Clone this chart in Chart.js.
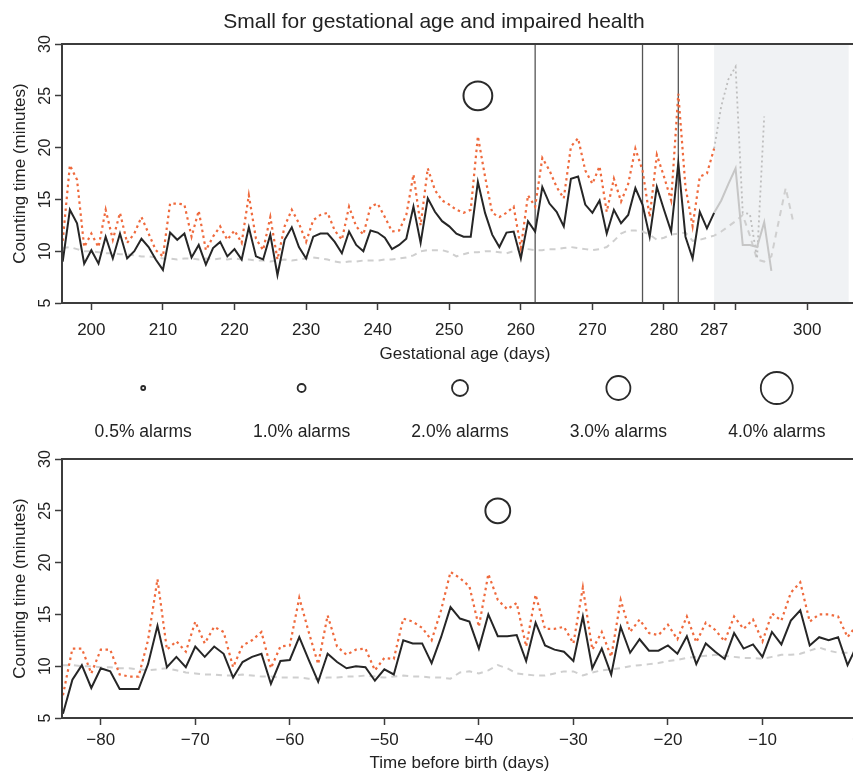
<!DOCTYPE html>
<html>
<head>
<meta charset="utf-8">
<title>Small for gestational age and impaired health</title>
<script src="https://cdn.jsdelivr.net/npm/chart.js@4.4.1/dist/chart.umd.min.js"></script>
<style>
  html, body { margin: 0; padding: 0; background: #fff; width: 853px; height: 773px; overflow: hidden; }
  canvas { position: absolute; left: 0; }
  #topChart { top: 0; }
  #legendChart { top: 365px; }
  #bottomChart { top: 440px; }
</style>
</head>
<body>
<canvas id="topChart" width="880" height="365"></canvas>
<canvas id="legendChart" width="880" height="80"></canvas>
<canvas id="bottomChart" width="880" height="336"></canvas>
<script>
// ---- top panel: one value per day, starting at gestational day 196
const topStart = 196;
const topCount = [
  9.0, 14.0, 12.7, 8.8, 10.1, 8.8, 11.4, 9.3, 11.7, 9.3,
  10.0, 11.2, 10.4, 9.2, 8.2, 11.8, 11.1, 11.7, 9.4, 10.6,
  8.7, 10.3, 10.9, 9.5, 10.2, 9.2, 12.3, 9.5, 9.2, 11.6,
  7.7, 11.1, 12.3, 10.4, 9.3, 11.4, 11.7, 11.7, 10.9, 9.8,
  11.9, 10.6, 10.0, 12.0, 11.8, 11.3, 10.2, 10.6, 11.2, 14.3,
  10.8, 15.1, 13.8, 12.9, 12.4, 11.7, 11.4, 11.4, 16.7, 13.7,
  11.6, 10.4, 11.8, 11.9, 9.3, 12.9, 11.9, 16.2, 14.6, 13.8,
  12.4, 17.0, 17.2, 14.5, 13.7, 14.9, 11.7, 14.0, 12.7, 13.5,
  16.1, 14.5, 11.4, 16.2, 14.0, 11.9, 18.5, 11.4, 9.3, 13.8,
  12.2, 13.7
];
const topUpper = [
  11.0, 18.3, 16.9, 10.4, 11.7, 10.4, 14.0, 11.1, 13.7, 10.8,
  11.7, 13.3, 11.7, 10.1, 9.5, 14.6, 14.6, 14.5, 11.4, 13.9,
  10.1, 11.4, 12.4, 11.1, 12.0, 10.8, 15.4, 11.2, 10.1, 13.3,
  9.2, 12.4, 14.0, 12.7, 10.9, 13.0, 13.5, 13.7, 12.0, 11.1,
  14.3, 12.4, 11.6, 14.3, 14.6, 13.3, 11.9, 12.0, 13.5, 17.4,
  12.5, 18.0, 15.9, 14.9, 14.5, 14.0, 13.7, 14.0, 21.1, 17.2,
  13.7, 13.3, 13.7, 14.3, 10.3, 15.4, 14.3, 19.0, 17.8, 16.2,
  15.1, 20.1, 20.9, 17.8, 16.5, 18.2, 13.8, 17.0, 14.8, 16.5,
  19.9, 17.8, 13.3, 19.3, 17.2, 14.9, 25.2, 16.2, 12.4, 17.2,
  17.5, 19.9
];
const topBaseline = [
  10.3, 10.4, 10.2, 10.0, 10.0, 9.9, 9.8, 9.8, 9.7, 9.7,
  9.6, 9.5, 9.5, 9.4, 9.3, 9.3, 9.2, 9.3, 9.3, 9.2,
  9.3, 9.2, 9.3, 9.2, 9.3, 9.2, 9.2, 9.1, 9.1, 9.0,
  9.1, 9.2, 9.1, 9.2, 9.3, 9.4, 9.3, 9.2, 9.0, 8.9,
  9.0, 9.0, 9.1, 9.1, 9.1, 9.2, 9.2, 9.3, 9.4, 9.6,
  10.0, 10.1, 10.1, 10.1, 9.9, 9.5, 9.7, 9.9, 9.9, 10.0,
  10.0, 9.9, 9.8, 10.0, 10.3, 10.2, 10.1, 10.1, 10.2, 10.2,
  10.3, 10.4, 10.3, 10.2, 10.1, 10.2, 10.4, 11.0, 11.7, 12.0,
  12.0, 11.9, 11.6, 11.1, 11.3, 11.6, 11.7, 11.8, 11.0, 11.1,
  11.3, 11.5, 11.9, 12.4, 12.9, 13.5, 11.5, 9.2, 9.0, 9.5,
  12.8, 16.1, 13.0
];
// after day 287 the curves continue in grey
const afterStart = 287;
const afterCount = [13.7, 14.9, 16.5, 18.0, 10.6, 10.6, 10.4, 12.8, 8.1];
const afterUpper = [19.9, 24.0, 26.6, 27.8, 13.7, 13.6, 9.3, 23.0];
const markDays = [262, 277, 282];
const shadeFrom = 287;
const shadeTo = 305.8;
const topXTicks = [200, 210, 220, 230, 240, 250, 260, 270, 280, 287, 290, 300];
const topXLabels = ['200', '210', '220', '230', '240', '250', '260', '270', '280', '287', '', '300'];
const topAlarmDay = [254];
const topAlarmY = [25];
const topAlarmPct = [3.6];

// ---- bottom panel: days before birth, starting at -84
const botStart = -84;
const botCount = [
  5.4, 8.7, 10.1, 7.9, 9.8, 9.5, 7.8, 7.8, 7.8, 10.2,
  13.9, 9.9, 10.9, 9.9, 11.9, 10.9, 11.9, 11.2, 8.9, 10.4,
  10.9, 11.2, 8.3, 10.5, 10.6, 12.8, 10.6, 8.5, 11.2, 10.4,
  9.8, 10.0, 9.9, 8.6, 9.7, 9.2, 12.5, 12.2, 12.2, 10.3,
  12.8, 15.7, 14.6, 14.3, 11.7, 15.0, 12.9, 12.9, 13.0, 10.5,
  14.2, 12.0, 11.6, 11.4, 10.5, 14.8, 9.8, 11.7, 9.2, 13.8,
  11.3, 12.6, 11.5, 11.5, 12.0, 11.2, 12.9, 10.2, 12.2, 11.4,
  10.7, 13.2, 11.7, 12.1, 10.9, 13.3, 12.1, 14.4, 15.4, 12.0,
  12.8, 12.5, 12.8, 10.1, 12.0
];
const botUpper = [
  7.2, 11.7, 11.7, 9.3, 11.6, 11.6, 9.2, 9.0, 9.0, 12.5,
  18.4, 11.6, 12.4, 11.4, 14.3, 12.2, 13.8, 13.3, 9.9, 12.0,
  12.5, 13.3, 9.8, 11.9, 12.0, 16.6, 13.3, 10.2, 14.9, 11.9,
  11.1, 11.6, 11.7, 9.6, 10.8, 10.7, 14.6, 14.3, 13.7, 12.5,
  15.4, 19.1, 18.5, 17.7, 13.8, 18.9, 16.4, 15.5, 16.1, 11.9,
  16.9, 13.6, 13.6, 13.8, 12.2, 17.6, 11.6, 13.3, 10.9, 16.4,
  13.3, 14.5, 13.2, 13.0, 14.0, 12.6, 14.8, 12.3, 14.2, 13.5,
  12.4, 14.8, 13.6, 14.5, 12.4, 15.1, 14.4, 17.1, 18.1, 14.3,
  15.0, 15.0, 14.8, 12.8, 14.0
];
const botBaseline = [
  10.1, 10.1, 10.0, 10.0, 9.9, 9.9, 9.8, 9.8, 9.7, 9.6,
  9.7, 9.8, 9.6, 9.4, 9.3, 9.2, 9.2, 9.1, 9.1, 9.2,
  9.1, 9.0, 9.0, 8.9, 8.9, 8.9, 8.8, 8.8, 8.9, 8.9,
  9.0, 9.0, 9.1, 9.0, 8.9, 9.0, 9.1, 9.0, 9.0, 8.9,
  8.9, 8.8, 9.4, 9.5, 9.3, 9.6, 10.1, 9.8, 9.3, 9.2,
  9.1, 9.1, 9.3, 9.5, 9.5, 9.1, 9.4, 9.6, 9.7, 9.8,
  10.0, 10.1, 10.2, 10.3, 10.5, 10.6, 10.8, 10.9, 11.0, 11.1,
  11.0, 10.9, 10.8, 10.8, 10.7, 10.9, 11.1, 11.1, 11.2, 11.5,
  11.8, 11.5, 11.3, 11.3, 11.4
];
const botXTicks = [-80, -70, -60, -50, -40, -30, -20, -10, 0];
const botAlarmDay = [-38];
const botAlarmY = [25];
const botAlarmPct = [3.1];

// ---- shared
const yTicks = [5, 10, 15, 20, 25, 30];
const legendPct = [0.5, 1.0, 2.0, 3.0, 4.0];

const ink = '#222';
const axisInk = '#3c3c3c';
const family = '"Liberation Sans", Arial, Helvetica, sans-serif';
const font = (size) => ({ family, size });
const alarmRadius = (pct) => pct * 4;
const series = (start, values) => values.map((v, i) => ({ x: start + i, y: v }));
const minus = (v) => (v < 0 ? '\u2212' + Math.abs(v) : String(v));

Chart.defaults.animation = false;
Chart.defaults.font.family = family;
Chart.defaults.color = ink;

const frame = {
  id: 'frame',
  afterDatasetsDraw(chart) {
    const { ctx, chartArea: a } = chart;
    ctx.save();
    ctx.strokeStyle = axisInk;
    ctx.lineWidth = 2;
    ctx.strokeRect(a.left, a.top, a.right - a.left, a.bottom - a.top);
    ctx.restore();
  }
};

const shade = {
  id: 'shade',
  beforeDatasetsDraw(chart) {
    const { ctx, chartArea: a, scales: { x } } = chart;
    const x0 = x.getPixelForValue(shadeFrom);
    const x1 = x.getPixelForValue(shadeTo);
    ctx.save();
    ctx.fillStyle = '#f0f2f4';
    ctx.fillRect(x0, a.top, x1 - x0, a.bottom - a.top);
    ctx.restore();
  }
};

function yAxis() {
  return {
    type: 'linear',
    min: yTicks[0],
    max: yTicks[yTicks.length - 1],
    afterBuildTicks: (s) => { s.ticks = yTicks.map((v) => ({ value: v })); },
    afterFit: (s) => { s.width = 62; },
    grid: { drawOnChartArea: false, tickLength: 7, tickColor: axisInk, tickWidth: 1.5 },
    border: { color: axisInk, width: 2 },
    ticks: { minRotation: 90, maxRotation: 90, crossAlign: 'center', padding: 1, color: ink, font: font(16) },
    title: { display: true, text: 'Counting time (minutes)', color: ink, font: font(17), padding: { top: 10, bottom: 0 } }
  };
}

function xAxis(min, max, values, labels, height, tickPad, text, titlePad) {
  return {
    type: 'linear',
    min,
    max,
    afterBuildTicks: (s) => { s.ticks = values.map((v) => ({ value: v })); },
    afterFit: (s) => { s.height = height; },
    grid: { drawOnChartArea: false, tickLength: 7, tickColor: axisInk, tickWidth: 1.5 },
    border: { color: axisInk, width: 2 },
    ticks: { autoSkip: false, maxRotation: 0, padding: tickPad, color: ink, font: font(17),
             callback: (v, i) => labels[i] },
    title: { display: true, text, color: ink, font: font(17), padding: { top: 0, bottom: titlePad } }
  };
}

function alarmSet(days, ys, pcts) {
  return {
    data: days.map((d, i) => ({ x: d, y: ys[i] })),
    showLine: false,
    clip: false,
    pointRadius: pcts.map(alarmRadius),
    pointBorderColor: '#2a2a2a',
    pointBorderWidth: 2,
    pointBackgroundColor: 'rgba(0,0,0,0)'
  };
}

const countStyle = { borderColor: '#262626', borderWidth: 2, pointRadius: 0, tension: 0 };
const upperStyle = { borderColor: '#ef6a3d', borderWidth: 2.2, borderDash: [2.5, 3.5], pointRadius: 0, tension: 0 };
const baseStyle = { borderColor: '#cfcfcf', borderWidth: 2, borderDash: [6, 5], pointRadius: 0, tension: 0 };

// ---- top chart
new Chart(document.getElementById('topChart'), {
  type: 'line',
  data: {
    datasets: [
      alarmSet(topAlarmDay, topAlarmY, topAlarmPct),
      { data: series(topStart, topCount), ...countStyle },
      { data: series(topStart, topUpper), ...upperStyle },
      { data: series(afterStart, afterCount), borderColor: '#c6c6c6', borderWidth: 2, pointRadius: 0 },
      { data: series(afterStart, afterUpper), borderColor: '#bdbdbd', borderWidth: 1.8, borderDash: [2, 3], pointRadius: 0 },
      { data: series(topStart, topBaseline), ...baseStyle },
      ...markDays.map((d) => ({
        data: [{ x: d, y: yTicks[0] }, { x: d, y: yTicks[yTicks.length - 1] }],
        borderColor: '#555', borderWidth: 1.3, pointRadius: 0
      }))
    ]
  },
  options: {
    responsive: false,
    layout: { autoPadding: false, padding: { left: 0, right: 12, top: 0, bottom: 0 } },
    plugins: {
      legend: { display: false },
      tooltip: { enabled: false },
      title: { display: true, text: 'Small for gestational age and impaired health', color: ink,
               font: { family, size: 21, weight: 'normal' }, padding: { top: 9.4, bottom: 9.4 } }
    },
    scales: {
      x: xAxis(195.9, 308.5, topXTicks, topXLabels, 62, 10, 'Gestational age (days)', 0),
      y: yAxis()
    }
  },
  plugins: [shade, frame]
});

// ---- legend of alarm circle sizes
new Chart(document.getElementById('legendChart'), {
  type: 'line',
  data: {
    datasets: [{
      data: legendPct.map((p, i) => ({ x: i, y: 0.5 })),
      showLine: false,
      clip: false,
      pointRadius: legendPct.map(alarmRadius),
      pointBorderColor: '#2a2a2a',
      pointBorderWidth: 1.8,
      pointBackgroundColor: 'rgba(0,0,0,0)'
    }]
  },
  options: {
    responsive: false,
    layout: { autoPadding: false, padding: { left: 64, right: 24, top: 0, bottom: 0 } },
    plugins: { legend: { display: false }, tooltip: { enabled: false } },
    scales: {
      x: {
        type: 'linear', min: -0.5, max: legendPct.length - 0.5,
        afterBuildTicks: (s) => { s.ticks = legendPct.map((p, i) => ({ value: i })); },
        afterFit: (s) => { s.height = 34; },
        grid: { display: false },
        border: { display: false },
        ticks: { autoSkip: false, maxRotation: 0, padding: 3, color: ink, font: font(17.5),
                 callback: (v, i) => legendPct[i].toFixed(1) + '% alarms' }
      },
      y: { display: false, min: 0, max: 1 }
    }
  }
});

// ---- bottom chart
new Chart(document.getElementById('bottomChart'), {
  type: 'line',
  data: {
    datasets: [
      alarmSet(botAlarmDay, botAlarmY, botAlarmPct),
      { data: series(botStart, botCount), ...countStyle },
      { data: series(botStart, botUpper), ...upperStyle },
      { data: series(botStart, botBaseline), ...baseStyle }
    ]
  },
  options: {
    responsive: false,
    layout: { autoPadding: false, padding: { left: 0, right: 23, top: 19, bottom: 0 } },
    plugins: { legend: { display: false }, tooltip: { enabled: false } },
    scales: {
      x: xAxis(-84.1, 0, botXTicks, botXTicks.map(minus), 58, 5.5, 'Time before birth (days)', 2.5),
      y: yAxis()
    }
  },
  plugins: [frame]
});
</script>
</body>
</html>
